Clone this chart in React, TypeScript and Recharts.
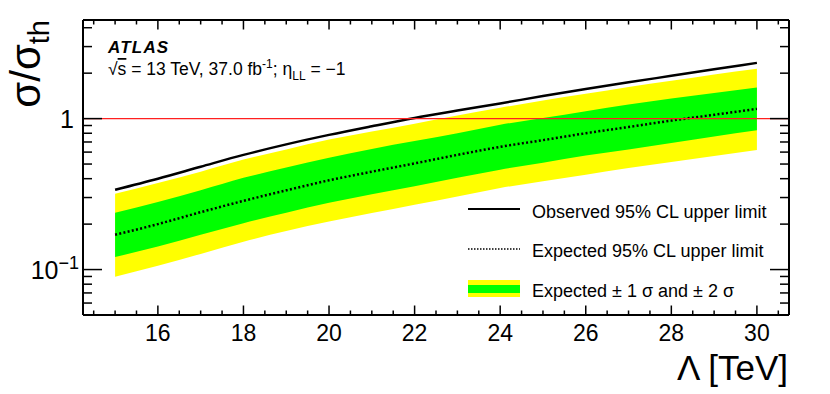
import { ComposedChart, Area, Line, XAxis, YAxis, ReferenceLine } from "recharts";

const FONT = "'Liberation Sans', Arial, Helvetica, sans-serif";

// contact-interaction scale points (TeV)
const lambda = [15, 16, 17, 18, 19, 20, 21, 22, 23, 24, 25, 26, 27, 28, 29, 30];

// sigma / sigma_th limits
const observed = [0.338, 0.4, 0.48, 0.575, 0.675, 0.78, 0.89, 1.01, 1.13, 1.26, 1.41, 1.57, 1.74, 1.92, 2.12, 2.34];
const expected = [0.17, 0.2, 0.24, 0.285, 0.335, 0.39, 0.445, 0.505, 0.575, 0.65, 0.72, 0.8, 0.88, 0.97, 1.06, 1.16];
const plus1 = [0.238, 0.28, 0.335, 0.405, 0.475, 0.55, 0.63, 0.71, 0.8, 0.91, 1.01, 1.12, 1.24, 1.36, 1.48, 1.61];
const minus1 = [0.121, 0.142, 0.17, 0.203, 0.238, 0.277, 0.316, 0.356, 0.405, 0.459, 0.51, 0.57, 0.625, 0.69, 0.76, 0.836];
const plus2 = [0.318, 0.375, 0.445, 0.535, 0.625, 0.726, 0.82, 0.926, 1.05, 1.18, 1.32, 1.46, 1.62, 1.78, 1.96, 2.14];
const minus2 = [0.0895, 0.106, 0.127, 0.153, 0.18, 0.208, 0.237, 0.269, 0.305, 0.347, 0.385, 0.425, 0.47, 0.515, 0.565, 0.62];

const xTicks = [14.5, 15, 15.5, 16, 16.5, 17, 17.5, 18, 18.5, 19, 19.5, 20, 20.5, 21, 21.5, 22, 22.5, 23, 23.5, 24, 24.5, 25, 25.5, 26, 26.5, 27, 27.5, 28, 28.5, 29, 29.5, 30, 30.5];
const xLabels = [16, 18, 20, 22, 24, 26, 28, 30];
const yTicks = [0.06, 0.07, 0.08, 0.09, 0.1, 0.2, 0.3, 0.4, 0.5, 0.6, 0.7, 0.8, 0.9, 1, 2, 3, 4];
const yMajor = [0.1, 1];

const data = lambda.map((l, i) => ({
  lambda: l,
  observed: observed[i],
  expected: expected[i],
  band1: [minus1[i], plus1[i]],
  band2: [minus2[i], plus2[i]],
}));

const isXMajor = (v: number) => xLabels.includes(v);
const isYMajor = (v: number) => yMajor.some((m) => Math.abs(m - v) < 1e-9);

function BottomTick({ x, y, payload }: any) {
  const v = payload.value;
  const major = isXMajor(v);
  return (
    <g>
      <line x1={x} x2={x} y1={y} y2={y - (major ? 9.5 : 4.5)} stroke="#000" strokeWidth={1.5} />
      {major && (
        <text x={x} y={y + 26} textAnchor="middle" fontSize={23} fontFamily={FONT} fill="#000">
          {v}
        </text>
      )}
    </g>
  );
}

function TopTick({ x, y, payload }: any) {
  const major = isXMajor(payload.value);
  return <line x1={x} x2={x} y1={y} y2={y + (major ? 9.5 : 4.5)} stroke="#000" strokeWidth={1.5} />;
}

function LeftTick({ x, y, payload }: any) {
  const v = payload.value;
  const major = isYMajor(v);
  return (
    <g>
      <line x1={x} x2={x + (major ? 19 : 9)} y1={y} y2={y} stroke="#000" strokeWidth={1.5} />
      {major && Math.abs(v - 1) < 1e-9 && (
        <text x={x - 9} y={y + 9} textAnchor="end" fontSize={25} fontFamily={FONT} fill="#000">1</text>
      )}
      {major && Math.abs(v - 0.1) < 1e-9 && (
        <text x={x - 4} y={y + 9} textAnchor="end" fontSize={25} fontFamily={FONT} fill="#000">
          10<tspan dy={-10} fontSize={18}>−1</tspan>
        </text>
      )}
    </g>
  );
}

function RightTick({ x, y, payload }: any) {
  const major = isYMajor(payload.value);
  return <line x1={x} x2={x - (major ? 19 : 9)} y1={y} y2={y} stroke="#000" strokeWidth={1.5} />;
}

const frame = { stroke: "#000", strokeWidth: 2 };

export default function App() {
  return (
    <div style={{ position: "absolute", left: 0, top: 0, width: 830, height: 394, background: "#fff", fontFamily: FONT }}>
      <ComposedChart width={830} height={394} data={data} margin={{ top: 19, right: 40, bottom: 78, left: 82 }}>
        <XAxis xAxisId="b" dataKey="lambda" type="number" domain={[14.25, 30.75]} allowDataOverflow
          ticks={xTicks} interval={0} tickSize={0} tickMargin={0} height={1} axisLine={frame} tick={<BottomTick />} />
        <XAxis xAxisId="t" orientation="top" dataKey="lambda" type="number" domain={[14.25, 30.75]} allowDataOverflow
          ticks={xTicks} interval={0} tickSize={0} tickMargin={0} height={1} axisLine={frame} tick={<TopTick />} />
        <YAxis yAxisId="l" scale="log" type="number" domain={[0.05, 4.5]} allowDataOverflow
          ticks={yTicks} interval={0} tickSize={0} tickMargin={0} width={1} axisLine={frame} tick={<LeftTick />} />
        <YAxis yAxisId="r" orientation="right" scale="log" type="number" domain={[0.05, 4.5]} allowDataOverflow
          ticks={yTicks} interval={0} tickSize={0} tickMargin={0} width={1} axisLine={frame} tick={<RightTick />} />

        <Area xAxisId="b" yAxisId="l" dataKey="band2" type="monotone" fill="#ffff00" fillOpacity={1} stroke="none" isAnimationActive={false} />
        <Area xAxisId="b" yAxisId="l" dataKey="band1" type="monotone" fill="#00ff00" fillOpacity={1} stroke="none" isAnimationActive={false} />
        <Line xAxisId="b" yAxisId="l" dataKey="expected" type="monotone" stroke="#000" strokeWidth={2.5}
          strokeDasharray="2 2.3" dot={false} isAnimationActive={false} />
        <Line xAxisId="b" yAxisId="l" dataKey="observed" type="monotone" stroke="#000" strokeWidth={2.5}
          dot={false} isAnimationActive={false} />
        <ReferenceLine xAxisId="b" yAxisId="l" y={1} stroke="#ff2020" strokeWidth={1.2} />
      </ComposedChart>

      <svg width={830} height={394} style={{ position: "absolute", left: 0, top: 0, pointerEvents: "none" }} fontFamily={FONT}>
        <text transform="translate(40,20) rotate(-90)" textAnchor="end" fontSize={42} fill="#000">
          σ/σ<tspan dy={9} fontSize={29}>th</tspan>
        </text>
        <text x={788} y={380} textAnchor="end" fontSize={35} fill="#000">Λ [TeV]</text>

        <text x={108} y={53} fontSize={17} fontWeight="bold" fontStyle="italic" letterSpacing={1.2} fill="#000">ATLAS</text>
        <text x={108} y={75} fontSize={17.5} fill="#000">
          √<tspan textDecoration="overline">s</tspan> = 13 TeV, 37.0 fb<tspan dy={-7} fontSize={12}>-1</tspan>
          <tspan dy={7}>; η</tspan><tspan dy={5} fontSize={12}>LL</tspan><tspan dy={-5}> = −1</tspan>
        </text>

        <line x1={468} x2={520} y1={209} y2={209} stroke="#000" strokeWidth={2} />
        <text x={532} y={218} fontSize={18} fill="#000">Observed 95% CL upper limit</text>
        <line x1={468} x2={520} y1={249} y2={249} stroke="#000" strokeWidth={1.5} strokeDasharray="1.5 1.5" />
        <text x={532} y={257} fontSize={18} fill="#000">Expected 95% CL upper limit</text>
        <rect x={468} y={280} width={52} height={17} fill="#ffff00" />
        <rect x={468} y={285} width={52} height={8} fill="#00ff00" />
        <text x={532} y={296.5} fontSize={18} fill="#000">Expected ± 1 σ and ± 2 σ</text>
      </svg>
    </div>
  );
}
